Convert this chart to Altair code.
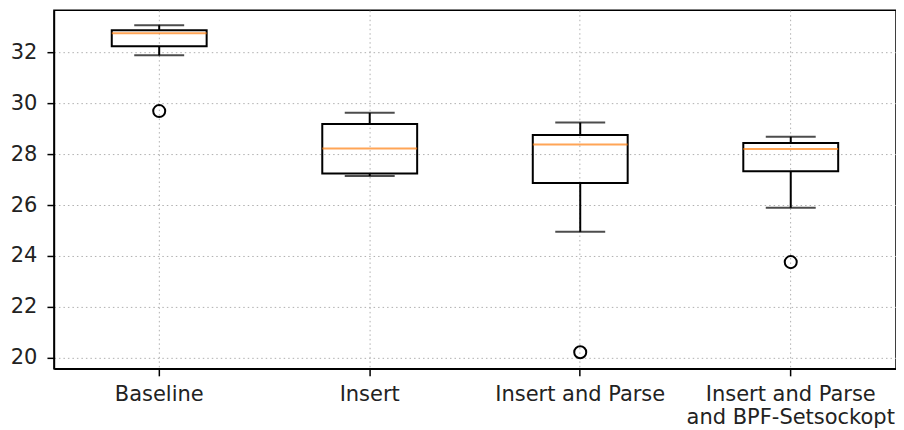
import altair as alt
import pandas as pd

categories = ["Baseline", "Insert", "Insert and Parse", "Insert and Parse\nand BPF-Setsockopt"]
whisker_low = [31.88, 27.14, 24.95, 25.89]
q1 = [32.24, 27.24, 26.87, 27.33]
median = [32.75, 28.22, 28.38, 28.20]
q3 = [32.86, 29.18, 28.75, 28.44]
whisker_high = [33.06, 29.62, 29.24, 28.68]
outlier_cat = ["Baseline", "Insert and Parse", "Insert and Parse\nand BPF-Setsockopt"]
outlier_val = [29.69, 20.22, 23.76]
y_ticks = [20, 22, 24, 26, 28, 30, 32]

stats = pd.DataFrame({
    "cat": categories, "lo": whisker_low, "q1": q1, "med": median,
    "q3": q3, "hi": whisker_high,
})
outs = pd.DataFrame({"cat": outlier_cat, "val": outlier_val})

FONT = "DejaVu Sans"
x_enc = alt.X(
    "cat:N", sort=categories, title=None,
    scale=alt.Scale(type="band", paddingInner=0, paddingOuter=0),
    axis=alt.Axis(
        labelAngle=0, bandPosition=0.5, labelExpr="split(datum.label, '\\n')",
        grid=True, gridColor="#b0b0b0", gridDash=[1.5, 3], gridWidth=1,
        tickSize=7, tickColor="black", tickWidth=1.5, labelPadding=8,
        labelFont=FONT, labelFontSize=21, labelColor="#222", labelLineHeight=23,
        labelLimit=0, domainColor="black", domainWidth=1.5,
    ),
)
y_scale = alt.Scale(domain=[19.57, 33.65], nice=False, zero=False)
y_axis = alt.Axis(
    values=y_ticks, grid=True, gridColor="#b0b0b0", gridDash=[1.5, 3], gridWidth=1,
    tickSize=7, tickColor="black", tickWidth=1.5, labelPadding=10,
    labelFont=FONT, labelFontSize=21, labelColor="#222",
    domainColor="black", domainWidth=1.5,
)

base = alt.Chart(stats)

whisk_lo = base.mark_rule(color="black", strokeWidth=2).encode(
    x=x_enc, y=alt.Y("lo:Q", scale=y_scale, axis=y_axis, title=None), y2="q1:Q")
whisk_hi = base.mark_rule(color="black", strokeWidth=2).encode(
    x=x_enc, y=alt.Y("q3:Q", scale=y_scale, title=None), y2="hi:Q")
cap_lo = base.mark_tick(color="black", size=50, thickness=2).encode(
    x=x_enc, y=alt.Y("lo:Q", scale=y_scale, title=None))
cap_hi = base.mark_tick(color="black", size=50, thickness=2).encode(
    x=x_enc, y=alt.Y("hi:Q", scale=y_scale, title=None))
box = base.mark_bar(fill=None, fillOpacity=0, stroke="black", strokeWidth=2, size=95).encode(
    x=x_enc, y=alt.Y("q1:Q", scale=y_scale, title=None), y2="q3:Q")
med = base.mark_tick(color="#ff7f0e", size=95, thickness=2).encode(
    x=x_enc, y=alt.Y("med:Q", scale=y_scale, title=None))
pts = alt.Chart(outs).mark_point(
    shape="circle", filled=False, color="black", size=145, strokeWidth=2, opacity=1
).encode(x=x_enc, y=alt.Y("val:Q", scale=y_scale, title=None))

chart = alt.layer(whisk_lo, whisk_hi, cap_lo, cap_hi, box, med, pts).properties(
    width=843, height=359, padding={"left": 2, "top": 2, "right": 0, "bottom": 0},
    background="white",
).configure_view(stroke="black", strokeWidth=1.5)

chart.save("out.html", embed_options={"renderer": "svg", "actions": False})
